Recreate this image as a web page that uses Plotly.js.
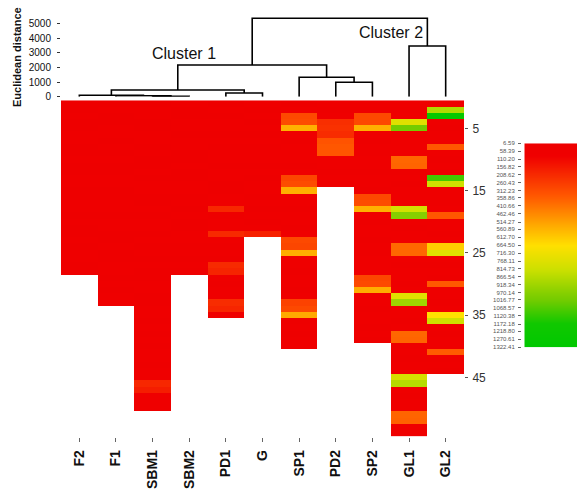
<!DOCTYPE html>
<html>
<head>
<meta charset="utf-8">
<script src="https://cdn.plot.ly/plotly-3.0.1.min.js"></script>
<style>html,body{margin:0;padding:0;background:#fff;}#chart{width:577px;height:490px;}</style>
</head>
<body>
<div id="chart"></div>
<script>
// ---------- DATA ----------
const columns = ['F2','F1','SBM1','SBM2','PD1','G','SP1','PD2','SP2','GL1','GL2'];

const F2   = [22,18,30,25,15,28,35,20,26,31,19,24,38,27,21,17,33,29,24,40,22,26,31,18,27,35,23,20];
const F1   = [25,30,20,18,27,34,22,29,16,31,26,21,28,35,24,19,33,27,22,30,38,25,20,29,26,17,32,28,23,36,21,27,30];
const SBM1 = [20,27,33,18,24,30,36,22,28,19,25,31,17,29,34,23,26,38,21,30,27,19,33,24,28,22,35,26,20,31,29,24,18,32,27,23,36,25,30,21,28,34,26,45,60,200,170,40,28,33];
const SBM2 = [30,24,19,27,33,22,28,35,20,26,31,18,25,29,37,23,27,21,32,26,19,34,28,24,30,22,27,25];
const PD1  = [26,32,21,28,35,19,30,24,27,33,22,29,36,25,20,31,27,200,24,30,33,210,28,22,35,26,210,190,31,24,29,27,215,195,30];
const G    = [28,23,31,26,35,20,29,24,33,27,22,30,25,36,28,21,32,26,30,24,45,180];
const SP1  = [25,32,300,310,550,28,22,35,27,30,24,33,290,310,545,26,31,22,36,28,25,30,300,290,540,27,33,24,29,35,21,28,280,300,530,26,31,24,33,28];
const PD2  = [30,24,28,220,230,215,330,340,335,27,33,25,30,22];
const SP2  = [28,23,300,300,550,31,26,34,22,29,33,25,30,27,21,300,310,550,32,24,28,35,26,30,23,29,33,27,290,300,540,25,31,22,34,28,26,30,24];
const GL1  = [30,22,35,760,1010,25,40,28,33,375,370,26,31,22,38,27,30,800,975,29,24,33,27,380,375,31,22,36,28,25,30,760,920,27,33,24,29,375,370,26,31,22,35,28,790,870,30,24,33,27,370,365,29,32];
const GL2  = [28,880,1270,31,24,33,27,340,30,25,32,26,1090,810,29,35,23,30,340,27,31,24,28,620,760,33,26,30,22,345,29,34,25,31,665,815,27,23,32,28,350,26,30,24];

const rowTicks = [5,15,25,35,45];

// colour key labels (top = low, bottom = high)
const keyLabels = ['6.59','58.39','110.20','156.82','208.62','260.43','312.23','358.86','410.66','462.46','514.27','560.89','612.70','664.50','716.30','768.11','814.73','866.54','918.34','970.14','1016.77','1068.57','1120.38','1172.18','1218.80','1270.61','1322.41'];

// dendrogram linkage (leaves 0..10 = columns; merges numbered from 11)
const linkLeft   = [2, 1, 0, 4, 13, 7, 6, 15, 9, 18];
const linkRight  = [3, 11, 12, 5, 14, 8, 16, 17, 10, 19];
const linkHeight = [20, 60, 100, 250, 457, 982, 1322, 2161, 3456, 5344];
const distTicks = [0,1000,2000,3000,4000,5000];

// ---------- BUILD ----------
const series = [F2,F1,SBM1,SBM2,PD1,G,SP1,PD2,SP2,GL1,GL2];
const nRows = Math.max(...series.map(s => s.length));
const rows = [], z = [];
for (let r = 0; r < nRows; r++) {
  rows.push(r + 1);
  z.push(series.map(s => (r < s.length ? s[r] : null)));
}
const keyVals = keyLabels.map(Number);
const zmin = keyVals[0], zmax = keyVals[keyVals.length - 1];

const cscale = [
  [0, '#ee0000'], [0.06, '#f00000'], [0.25, '#ff5500'], [0.40, '#ffaa00'],
  [0.50, '#ffe000'], [0.62, '#cce000'], [0.76, '#77cc00'], [0.88, '#11c800'], [1, '#00c800']
];

// dendrogram segments
const pos = columns.map((_, i) => i);
const ht = columns.map(() => 0);
const dx = [], dy = [];
for (let k = 0; k < linkLeft.length; k++) {
  const l = linkLeft[k], r = linkRight[k], h = linkHeight[k];
  dx.push(pos[l], pos[l], pos[r], pos[r], null);
  dy.push(ht[l], h, h, ht[r], null);
  pos.push((pos[l] + pos[r]) / 2);
  ht.push(h);
}

const FONT = 'Liberation Sans, Arial, sans-serif';
const W = 577, H = 490;
const xDom = [61 / W, 464 / W];

const traces = [
  {
    type: 'heatmap', x: columns, y: rows, z: z,
    colorscale: cscale, zmin: zmin, zmax: zmax, showscale: false,
    xaxis: 'x', yaxis: 'y', hoverongaps: false
  },
  {
    type: 'scatter', mode: 'lines', x: dx, y: dy,
    line: { color: '#000', width: 1.6 }, xaxis: 'x2', yaxis: 'y2',
    cliponaxis: false, hoverinfo: 'skip', connectgaps: false
  },
  {
    type: 'heatmap', x: [0, 1], y: keyVals, z: keyVals.map(v => [v, v]),
    colorscale: cscale, zmin: zmin, zmax: zmax, showscale: false,
    zsmooth: 'best', xaxis: 'x3', yaxis: 'y3'
  }
];

const layout = {
  width: W, height: H,
  margin: { l: 0, r: 0, t: 0, b: 0 },
  paper_bgcolor: '#fff', plot_bgcolor: 'rgba(0,0,0,0)',
  showlegend: false,
  font: { family: FONT, color: '#222' },
  xaxis: {
    domain: xDom, anchor: 'y', type: 'category', range: [-0.5, 10.5],
    showgrid: false, zeroline: false, showline: false,
    ticks: 'outside', ticklen: 4, tickcolor: '#666', tickwidth: 1,
    tickangle: -90, ticklabelstandoff: 3, automargin: false,
    tickfont: { family: FONT, size: 14, color: '#111', weight: 'bold' }
  },
  yaxis: {
    domain: [(H - 436.5) / H, (H - 100.3) / H], anchor: 'x',
    range: [nRows + 0.5, 0.5], side: 'right',
    showgrid: false, zeroline: false, showline: false,
    tickvals: rowTicks, ticktext: rowTicks.map(String),
    ticks: 'outside', ticklen: 3, tickcolor: '#555', ticklabelstandoff: 2,
    automargin: false,
    tickfont: { family: FONT, size: 12, color: '#333' }
  },
  xaxis2: {
    domain: xDom, anchor: 'y2', range: [-0.5, 10.5],
    showgrid: false, zeroline: false, showline: false, showticklabels: false, ticks: ''
  },
  yaxis2: {
    domain: [(H - 96.7) / H, (H - 16.0) / H], anchor: 'x2', range: [0, 5500],
    showgrid: false, zeroline: false, showline: false,
    tickvals: distTicks, ticktext: distTicks.map(String),
    ticks: 'outside', ticklen: 3, tickcolor: '#333', ticklabelstandoff: 4,
    automargin: false,
    tickfont: { family: FONT, size: 10, color: '#111' }
  },
  xaxis3: {
    domain: [524.3 / W, 1], anchor: 'y3', range: [0, 1],
    showgrid: false, zeroline: false, showline: false, showticklabels: false, ticks: ''
  },
  yaxis3: {
    domain: [(H - 347.3) / H, (H - 143.3) / H], anchor: 'free', position: 521 / W,
    range: [zmax, zmin], side: 'left',
    showgrid: false, zeroline: false, showline: false,
    tickvals: keyVals, ticktext: keyLabels,
    ticks: 'outside', ticklen: 3, tickcolor: '#666', ticklabelstandoff: 2,
    automargin: false,
    tickfont: { family: FONT, size: 6, color: '#555' }
  },
  annotations: [
    { text: 'Cluster 1', xref: 'x2', yref: 'y2', x: 2.87, y: 2945, showarrow: false,
      font: { family: FONT, size: 16, color: '#111' } },
    { text: 'Cluster 2', xref: 'x2', yref: 'y2', x: 8.52, y: 4342, showarrow: false,
      font: { family: FONT, size: 16, color: '#111' } },
    { text: 'Euclidean distance', xref: 'paper', yref: 'paper', x: 17.5 / W, y: (H - 57.5) / H,
      textangle: -90, showarrow: false, xanchor: 'center', yanchor: 'middle',
      font: { family: FONT, size: 11, color: '#111', weight: 'bold' } }
  ]
};

Plotly.newPlot('chart', traces, layout, { displayModeBar: false, staticPlot: true });
</script>
</body>
</html>
